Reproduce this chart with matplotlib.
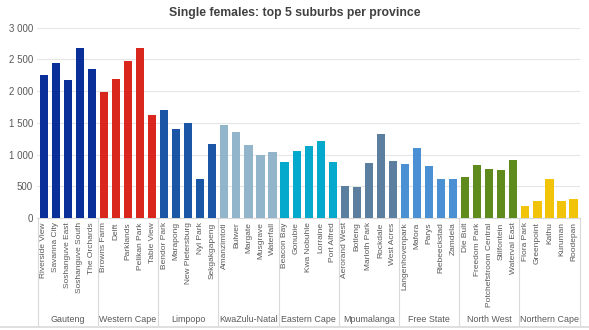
import matplotlib.pyplot as plt
from matplotlib.transforms import blended_transform_factory

provinces = ["Gauteng", "Western Cape", "Limpopo", "KwaZulu-Natal", "Eastern Cape",
             "Mpumalanga", "Free State", "North West", "Northern Cape"]

suburbs = [
    ["Riverside View", "Savanna City", "Soshanguve East", "Soshanguve South", "The Orchards"],
    ["Browns Farm", "Delft", "Parklands", "Pelikan Park", "Table View"],
    ["Bendor Park", "Marapong", "New Pietersburg", "Nyl Park", "Sekgakgapeng"],
    ["Amanzimtoti", "Bulwer", "Margate", "Musgrave", "Waterfall"],
    ["Beacon Bay", "Gonubie", "Kwa Nobuhle", "Lorraine", "Port Alfred"],
    ["Aerorand West", "Botleng", "Marloth Park", "Rockdale", "West Acres"],
    ["Langenhovenpark", "Mafora", "Parys", "Riebeeckstad", "Zamdela"],
    ["Die Bult", "Freedom Park", "Potchefstroom Central", "Stilfontein", "Waterval East"],
    ["Flora Park", "Greenpoint", "Kathu", "Kuruman", "Roodepan"],
]

counts = [
    [2250, 2450, 2180, 2685, 2355],
    [1995, 2190, 2475, 2675, 1630],
    [1700, 1405, 1505, 615, 1170],
    [1465, 1355, 1150, 1000, 1040],
    [880, 1065, 1135, 1220, 880],
    [510, 495, 865, 1325, 900],
    [855, 1100, 820, 615, 615],
    [645, 840, 780, 760, 920],
    [195, 265, 615, 275, 295],
]

colors = ["#0b2f99", "#d9271d", "#1a55a6", "#92b5cb", "#04a9cc",
          "#5d7f9f", "#4a90d2", "#5f8a1c", "#f1c40a"]

plt.rcParams['font.family'] = ['Liberation Sans', 'DejaVu Sans']
fig = plt.figure(figsize=(5.89, 3.30), dpi=100)
ax = fig.add_axes([0.063, 0.339, 0.922, 0.577])

xs, labels = [], []
i = 0
for prov, subs, vals, col in zip(provinces, suburbs, counts, colors):
    pos = list(range(i, i + len(vals)))
    ax.bar(pos, vals, width=0.68, color=col, zorder=3)
    xs += pos
    labels += subs
    i += len(vals)

ax.set_xlim(-0.55, i - 0.45)
ax.set_ylim(0, 3000)
ax.set_yticks(range(0, 3001, 500))
ax.set_yticklabels(["0", "500", "1 000", "1 500", "2 000", "2 500", "3 000"],
                   fontsize=7, color="#595959")
ax.set_xticks(xs)
ax.set_xticklabels(labels, rotation=90, fontsize=6.0, color="#595959")
ax.tick_params(axis="both", length=0, pad=3)
ax.grid(axis="y", color="#e6e6e6", linewidth=0.8, zorder=0)
for s in ["top", "right", "left"]:
    ax.spines[s].set_visible(False)
ax.spines["bottom"].set_color("#d9d9d9")

# province group labels and separators under the axis
trans = blended_transform_factory(ax.transData, ax.transAxes)
start = 0
for prov, vals in zip(provinces, counts):
    end = start + len(vals)
    ax.text((start + end - 1) / 2, -0.53, prov, transform=trans, ha="center", va="center",
            fontsize=6.4, color="#595959")
    ax.plot([start - 0.5, start - 0.5], [0, -0.56], transform=trans, color="#d9d9d9",
            linewidth=0.8, clip_on=False)
    start = end
ax.plot([start - 0.5, start - 0.5], [0, -0.56], transform=trans, color="#d9d9d9",
        linewidth=0.8, clip_on=False)

fig.text(0.5, 0.962, "Single females: top 5 suburbs per province", ha="center", va="center",
         fontsize=8.8, fontweight="bold", color="#404040")
fig.add_artist(plt.Line2D([0, 1], [0.008, 0.008], color="#d9d9d9", linewidth=1.2))

fig.savefig("out.png", dpi=100)
